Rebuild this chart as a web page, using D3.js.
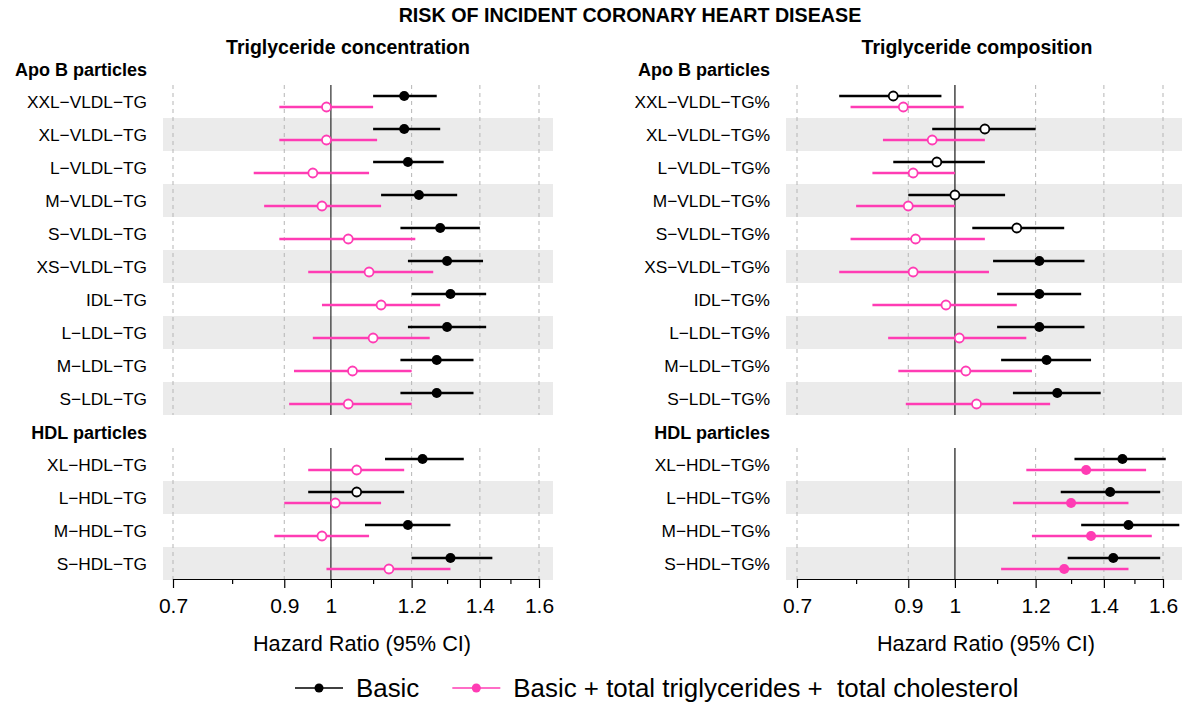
<!DOCTYPE html>
<html lang="en">
<head>
<meta charset="UTF-8">
<title>Risk of incident coronary heart disease</title>
<style>
    body, html {
        margin: 0;
        padding: 0;
        background: #fff;
        font-family: "Liberation Sans", Arial, Helvetica, sans-serif;
    }
    #svg text { white-space: pre; }
</style>
</head>
<body>
<svg id="svg" width="1182" height="705"></svg>
<script src="https://d3js.org/d3.v7.min.js"></script>
<script>
// ---- data ----
const apoLabels = ["XXL\u2212VLDL\u2212TG", "XL\u2212VLDL\u2212TG", "L\u2212VLDL\u2212TG", "M\u2212VLDL\u2212TG",
    "S\u2212VLDL\u2212TG", "XS\u2212VLDL\u2212TG", "IDL\u2212TG", "L\u2212LDL\u2212TG", "M\u2212LDL\u2212TG", "S\u2212LDL\u2212TG"]
const hdlLabels = ["XL\u2212HDL\u2212TG", "L\u2212HDL\u2212TG", "M\u2212HDL\u2212TG", "S\u2212HDL\u2212TG"]
const sectionTitles = ["Apo B particles", "HDL particles"]
const panelTitles = ["Triglyceride concentration", "Triglyceride composition"]
const tickValues = [0.7, 0.9, 1, 1.2, 1.4, 1.6]
const minorTicks = [0.8, 1.1, 1.3, 1.5]
const seriesNames = ["Basic", "Basic + total triglycerides +  total cholesterol"]

// triglyceride concentration, basic model
const concBasicHR = [1.18, 1.18, 1.19, 1.22, 1.28, 1.30, 1.31, 1.30, 1.27, 1.27, 1.23, 1.06, 1.19, 1.31]
const concBasicLo = [1.10, 1.10, 1.10, 1.12, 1.17, 1.19, 1.20, 1.19, 1.17, 1.17, 1.13, 0.95, 1.08, 1.20]
const concBasicHi = [1.27, 1.28, 1.29, 1.33, 1.40, 1.41, 1.42, 1.42, 1.38, 1.38, 1.35, 1.18, 1.31, 1.44]
const concBasicSig = [1, 1, 1, 1, 1, 1, 1, 1, 1, 1, 1, 0, 1, 1]
// triglyceride concentration, adjusted model
const concAdjHR = [0.99, 0.99, 0.96, 0.98, 1.04, 1.09, 1.12, 1.10, 1.05, 1.04, 1.06, 1.01, 0.98, 1.14]
const concAdjLo = [0.89, 0.89, 0.84, 0.86, 0.89, 0.95, 0.98, 0.96, 0.92, 0.91, 0.95, 0.90, 0.88, 0.99]
const concAdjHi = [1.10, 1.11, 1.09, 1.12, 1.21, 1.26, 1.28, 1.25, 1.20, 1.20, 1.18, 1.12, 1.09, 1.31]
const concAdjSig = [0, 0, 0, 0, 0, 0, 0, 0, 0, 0, 0, 0, 0, 0]

// triglyceride composition, basic model
const compBasicHR = [0.87, 1.07, 0.96, 1.00, 1.15, 1.21, 1.21, 1.21, 1.23, 1.26, 1.46, 1.42, 1.48, 1.43]
const compBasicLo = [0.77, 0.95, 0.87, 0.90, 1.04, 1.09, 1.10, 1.10, 1.11, 1.14, 1.31, 1.27, 1.33, 1.29]
const compBasicHi = [0.97, 1.20, 1.07, 1.12, 1.28, 1.34, 1.33, 1.34, 1.36, 1.39, 1.61, 1.59, 1.66, 1.59]
const compBasicSig = [0, 0, 0, 0, 0, 1, 1, 1, 1, 1, 1, 1, 1, 1]
// triglyceride composition, adjusted model
const compAdjHR = [0.89, 0.95, 0.91, 0.90, 0.915, 0.91, 0.98, 1.01, 1.025, 1.05, 1.345, 1.30, 1.36, 1.28]
const compAdjLo = [0.79, 0.85, 0.83, 0.80, 0.79, 0.77, 0.83, 0.86, 0.88, 0.895, 1.175, 1.14, 1.19, 1.11]
const compAdjHi = [1.02, 1.07, 1.00, 1.00, 1.07, 1.08, 1.15, 1.175, 1.19, 1.24, 1.54, 1.48, 1.56, 1.48]
const compAdjSig = [0, 0, 0, 0, 0, 0, 0, 0, 0, 0, 1, 1, 1, 1]

// ---- layout ----
const black = "#000000"
const pink = "#ff3cb4"
const svg = d3.select('#svg')

function rows(hr, lo, hi, sig) {
    return hr.map((d, i) => ({ i: i, hr: d, lo: lo[i], hi: hi[i], sig: sig[i] }))
}

const panels = [
    {
        title: panelTitles[0], suffix: "", labelX: 147, titleX: 348, axisX: 362,
        band: [163, 553], range: [173, 539], refColor: "#000", refWidth: 1,
        series: [rows(concBasicHR, concBasicLo, concBasicHi, concBasicSig),
                 rows(concAdjHR, concAdjLo, concAdjHi, concAdjSig)]
    },
    {
        title: panelTitles[1], suffix: "%", labelX: 770, titleX: 977, axisX: 986,
        band: [786, 1182], range: [797, 1163], refColor: "#444", refWidth: 1.5,
        series: [rows(compBasicHR, compBasicLo, compBasicHi, compBasicSig),
                 rows(compAdjHR, compAdjLo, compAdjHi, compAdjSig)]
    }
]

// two sections stacked: apo B rows then HDL rows
const yApo = d3.scaleBand().domain(d3.range(apoLabels.length)).range([85, 415])
const yHdl = d3.scaleBand().domain(d3.range(hdlLabels.length)).range([448, 580])
const sections = [
    { name: sectionTitles[0], labels: apoLabels, y: yApo, offset: 0 },
    { name: sectionTitles[1], labels: hdlLabels, y: yHdl, offset: apoLabels.length }
]
const colors = [black, pink]
const shift = [-5.5, 5.5]

svg.append('text')
    .attr('x', 630).attr('y', 22)
    .attr('text-anchor', 'middle')
    .attr('font-size', 19.7).attr('font-weight', 'bold')
    .text("RISK OF INCIDENT CORONARY HEART DISEASE")

panels.forEach((p, pi) => {
    const x = d3.scaleLog().domain([0.7, 1.6]).range(p.range)
    const g = svg.append('g')

    const clipId = 'clip' + pi
    svg.append('clipPath').attr('id', clipId)
        .append('rect')
        .attr('x', p.band[0]).attr('y', 0)
        .attr('width', p.band[1] - p.band[0]).attr('height', 705)

    g.append('text')
        .attr('x', p.titleX).attr('y', 54)
        .attr('text-anchor', 'middle')
        .attr('font-size', 19.5).attr('font-weight', 'bold')
        .text(p.title)

    sections.forEach(s => {
        const sg = g.append('g')
        const top = s.y.range()[0], bottom = s.y.range()[1]

        sg.append('text')
            .attr('x', p.labelX).attr('y', top - 9)
            .attr('text-anchor', 'end')
            .attr('font-size', 18).attr('font-weight', 'bold')
            .text(s.name)

        // shaded alternate rows
        sg.selectAll('rect.band')
            .data(s.labels.map((d, i) => i).filter(i => i % 2 === 1))
            .enter().append('rect')
            .attr('class', 'band')
            .attr('x', p.band[0]).attr('width', p.band[1] - p.band[0])
            .attr('y', i => s.y(i)).attr('height', s.y.bandwidth())
            .attr('fill', '#ebebeb')

        // dashed grid
        sg.selectAll('line.grid')
            .data(tickValues.filter(t => t !== 1))
            .enter().append('line')
            .attr('x1', d => x(d)).attr('x2', d => x(d))
            .attr('y1', top).attr('y2', bottom)
            .attr('stroke', '#b5b5b5').attr('stroke-width', 1)
            .attr('stroke-dasharray', '4,4')

        sg.append('line')
            .attr('x1', x(1)).attr('x2', x(1))
            .attr('y1', top).attr('y2', bottom)
            .attr('stroke', p.refColor).attr('stroke-width', p.refWidth)

        sg.selectAll('text.row')
            .data(s.labels)
            .enter().append('text')
            .attr('x', p.labelX)
            .attr('y', (d, i) => s.y(i) + s.y.bandwidth() / 2 + 6)
            .attr('text-anchor', 'end')
            .attr('font-size', 17.3)
            .text(d => d + p.suffix)

        p.series.forEach((ser, k) => {
            const data = ser.slice(s.offset, s.offset + s.labels.length)
            const cy = d => s.y(d.i - s.offset) + s.y.bandwidth() / 2 + shift[k]
            const lg = sg.append('g').attr('clip-path', `url(#${clipId})`)
            lg.selectAll('line')
                .data(data)
                .enter().append('line')
                .attr('x1', d => x(d.lo)).attr('x2', d => x(d.hi))
                .attr('y1', cy).attr('y2', cy)
                .attr('stroke', colors[k]).attr('stroke-width', 2.6)
            lg.selectAll('circle')
                .data(data)
                .enter().append('circle')
                .attr('cx', d => x(d.hr)).attr('cy', cy)
                .attr('r', d => d.sig ? 5 : 4.5)
                .attr('fill', d => d.sig ? colors[k] : '#fff')
                .attr('stroke', colors[k])
                .attr('stroke-width', d => d.sig ? 0 : 1.8)
        })
    })

    // x axis
    const axisY = 579
    const axis = d3.axisBottom(x)
        .tickValues(tickValues)
        .tickFormat(d => String(d))
        .tickSize(9).tickSizeOuter(0).tickPadding(10)
    const ag = g.append('g')
        .attr('transform', `translate(0, ${axisY})`)
        .call(axis)
    ag.select('.domain').attr('stroke', '#000').attr('stroke-width', 1.2)
    ag.selectAll('.tick line').attr('stroke', '#000').attr('stroke-width', 1.2)
    ag.selectAll('text')
        .attr('font-size', 21)
        .attr('font-family', '"Liberation Sans", Arial, sans-serif')
        .attr('fill', '#000')

    const minor = g.append('g')
        .attr('transform', `translate(0, ${axisY})`)
        .call(d3.axisBottom(x).tickValues(minorTicks).tickFormat('').tickSize(5).tickSizeOuter(0))
    minor.select('.domain').remove()
    minor.selectAll('.tick line').attr('stroke', '#000').attr('stroke-width', 1.2)

    g.append('text')
        .attr('x', p.axisX).attr('y', 651)
        .attr('text-anchor', 'middle')
        .attr('font-size', 21.7)
        .text("Hazard Ratio (95% CI)")
})

// legend
const legend = svg.append('g').attr('transform', 'translate(0, 688)')
let lx = 295
seriesNames.forEach((name, k) => {
    legend.append('line')
        .attr('x1', lx).attr('x2', lx + 48)
        .attr('y1', 0).attr('y2', 0)
        .attr('stroke', colors[k]).attr('stroke-width', 1.6)
    legend.append('circle')
        .attr('cx', lx + 24).attr('cy', 0).attr('r', 4.5)
        .attr('fill', colors[k])
    const t = legend.append('text')
        .attr('x', lx + 61).attr('y', 9)
        .attr('font-size', 25.9)
        .text(name)
    lx = lx + 61 + t.node().getComputedTextLength() + 33
})
</script>
</body>
</html>
